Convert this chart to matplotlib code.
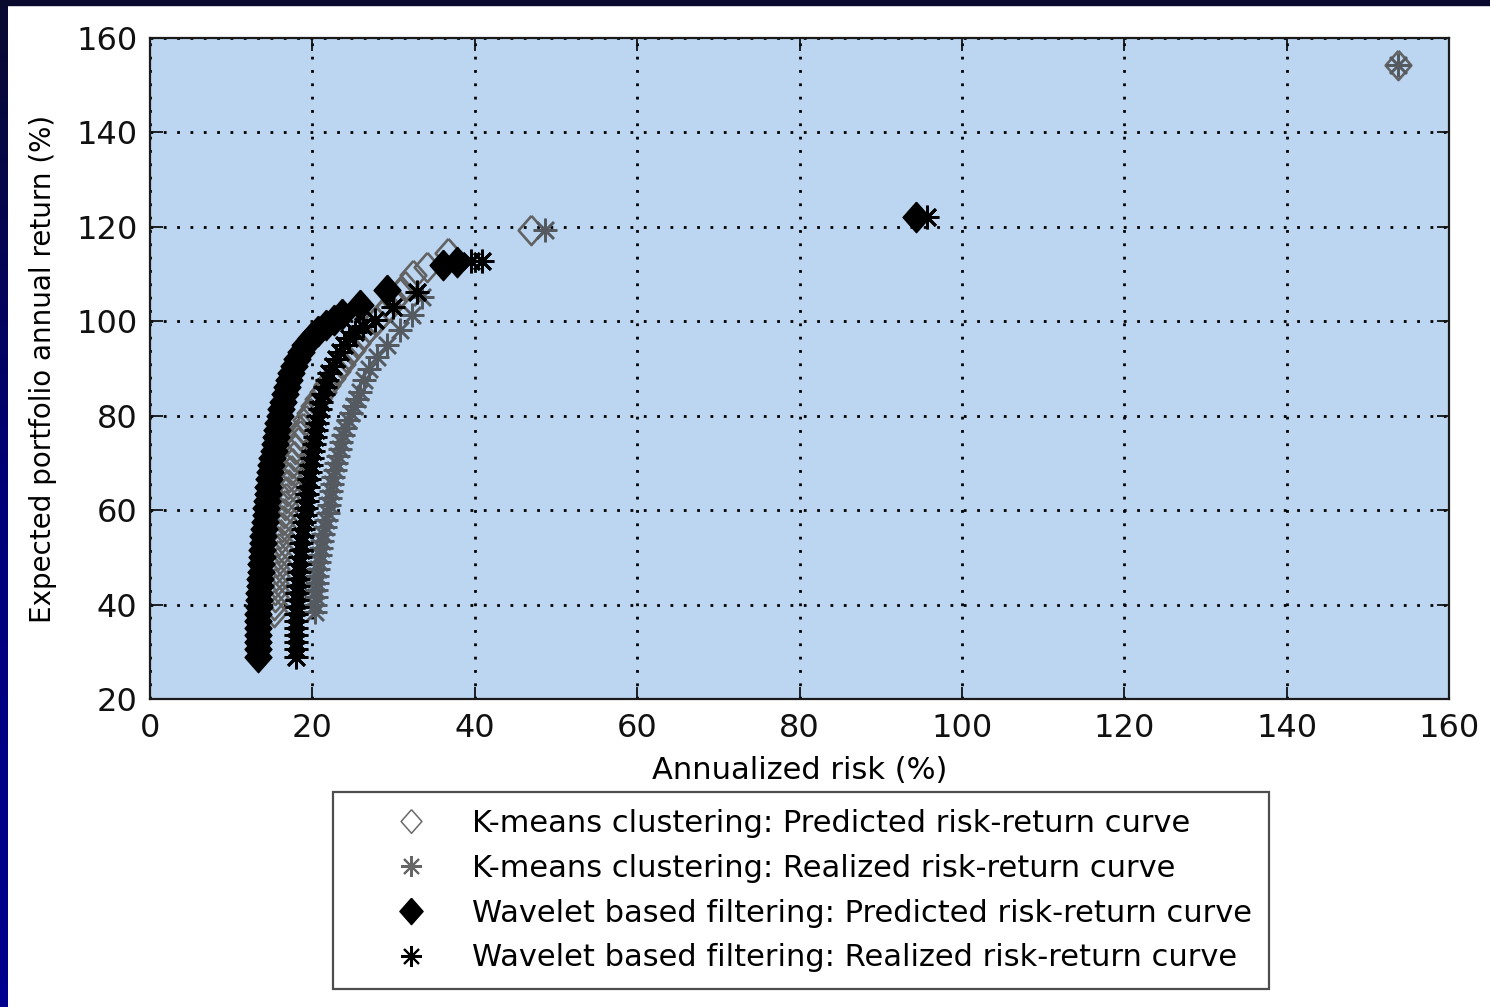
import numpy as np
import matplotlib
matplotlib.use("Agg")
import matplotlib.pyplot as plt
from matplotlib.lines import Line2D

# risk (%) / return (%) points of the four frontiers
km_pred_risk = [15.30, 15.32, 15.35, 15.39, 15.44, 15.50, 15.57, 15.65, 15.74, 15.84,
                15.95, 16.07, 16.20, 16.33, 16.46, 16.58, 16.72, 16.86, 17.00, 17.15,
                17.32, 17.50, 17.70, 17.92, 18.17, 18.45, 18.80, 19.20, 19.65, 20.15,
                20.70, 21.30, 21.85, 22.40, 23.00, 23.60, 24.20, 24.85, 25.55, 26.25,
                27.00, 27.80, 28.60, 29.40, 30.10, 30.80, 31.40, 32.40, 34.10, 36.70,
                46.90, 153.70]
km_pred_ret = [38.5, 40.0, 41.5, 43.0, 44.5, 46.0, 47.5, 49.0, 50.5, 52.0,
               53.5, 55.0, 56.5, 58.0, 59.5, 61.0, 62.5, 64.0, 65.5, 67.0,
               68.5, 70.0, 71.5, 73.0, 74.5, 76.0, 77.5, 79.0, 80.5, 82.0,
               83.5, 85.0, 86.5, 88.0, 89.5, 91.0, 92.5, 94.0, 95.5, 97.0,
               98.5, 100.0, 101.5, 103.0, 104.5, 106.0, 107.5, 109.8, 111.5, 114.5,
               119.3, 154.3]

km_real_risk = [20.30, 20.35, 20.40, 20.46, 20.53, 20.60, 20.68, 20.78, 20.90, 21.05,
                21.20, 21.35, 21.52, 21.70, 21.88, 22.00, 22.15, 22.30, 22.45, 22.60,
                22.75, 22.95, 23.15, 23.35, 23.55, 23.80, 24.05, 24.40, 24.80, 25.15,
                25.50, 25.85, 26.40, 27.00, 27.90, 29.20, 30.80, 32.30, 33.50, 48.60,
                153.70]
km_real_ret = [38.5, 40.0, 41.5, 43.0, 44.5, 46.0, 47.5, 49.0, 50.5, 52.0,
               53.5, 55.0, 56.5, 58.0, 59.5, 61.0, 62.5, 64.0, 65.5, 67.0,
               68.5, 70.0, 71.5, 73.0, 74.5, 76.0, 77.5, 79.0, 80.5, 82.0,
               83.5, 85.0, 87.5, 90.0, 92.5, 95.0, 98.2, 101.3, 105.2, 119.3,
               154.3]

wv_pred_risk = [13.30, 13.30, 13.30, 13.30, 13.32, 13.34, 13.36, 13.40, 13.43, 13.47,
                13.52, 13.57, 13.62, 13.68, 13.74, 13.80, 13.88, 13.96, 14.05, 14.15,
                14.25, 14.33, 14.42, 14.50, 14.58, 14.68, 14.80, 14.93, 15.07, 15.22,
                15.37, 15.52, 15.67, 15.82, 16.00, 16.18, 16.38, 16.60, 16.85, 17.12,
                17.40, 17.75, 18.15, 18.60, 19.15, 19.80, 20.70, 21.70, 22.70, 23.60,
                25.90, 29.20, 36.10, 37.80, 94.30]
wv_pred_ret = [29.0, 30.5, 32.0, 33.5, 35.0, 36.5, 38.0, 39.5, 41.0, 42.5,
               44.0, 45.5, 47.0, 48.5, 50.0, 51.5, 53.0, 54.5, 56.0, 57.5,
               59.0, 60.5, 62.0, 63.5, 65.0, 66.5, 68.0, 69.5, 71.0, 72.5,
               74.0, 75.5, 77.0, 78.5, 80.0, 81.5, 83.0, 84.5, 86.0, 87.5,
               89.0, 90.5, 92.0, 93.5, 95.0, 96.5, 98.0, 99.2, 100.3, 101.5,
               103.5, 106.6, 111.9, 112.6, 122.0]

wv_real_risk = [18.00, 18.00, 18.00, 18.00, 18.00, 18.02, 18.04, 18.07, 18.10, 18.14,
                18.19, 18.24, 18.30, 18.37, 18.45, 18.55, 18.65, 18.75, 18.85, 18.96,
                19.07, 19.18, 19.29, 19.38, 19.48, 19.60, 19.72, 19.85, 19.98, 20.10,
                20.22, 20.35, 20.48, 20.60, 20.75, 20.92, 21.10, 21.30, 21.52, 21.78,
                22.10, 22.50, 22.95, 23.45, 23.95, 24.50, 25.20, 26.20, 27.70, 29.90,
                32.90, 39.50, 40.90, 95.70]
wv_real_ret = [29.0, 30.5, 32.0, 33.5, 35.0, 36.5, 38.0, 39.5, 41.0, 42.5,
               44.0, 45.5, 47.0, 48.5, 50.0, 51.5, 53.0, 54.5, 56.0, 57.5,
               59.0, 60.5, 62.0, 63.5, 65.0, 66.5, 68.0, 69.5, 71.0, 72.5,
               74.0, 75.5, 77.0, 78.5, 80.0, 81.5, 83.0, 84.5, 86.0, 87.5,
               89.0, 90.5, 92.0, 93.5, 95.0, 96.5, 97.8, 99.0, 100.3, 103.0,
               106.2, 112.7, 112.8, 122.0]

labels = ["K-means clustering: Predicted risk-return curve",
          "K-means clustering: Realized risk-return curve",
          "Wavelet based filtering: Predicted risk-return curve",
          "Wavelet based filtering: Realized risk-return curve"]

plt.rcParams['font.family'] = ['DejaVu Sans']

fig = plt.figure(figsize=(14.9, 10.07), dpi=100)
fig.patch.set_facecolor('white')

# dark blue slide edge on the left and top
edge = fig.add_axes([0, 0, 8 / 1490, 1])
grad = np.linspace(0, 1, 256).reshape(-1, 1)
edge.imshow(grad, aspect='auto', cmap=matplotlib.colors.LinearSegmentedColormap.from_list(
    'edge', ['#00008f', '#00007a', '#0a0a30']), origin='lower')
edge.axis('off')
fig.patches.append(plt.Rectangle((0, 1 - 5 / 1007), 1, 5 / 1007, transform=fig.transFigure,
                                 color='#0a0a2e', zorder=0))

ax = fig.add_axes([150 / 1490, 1 - 699 / 1007, 1299 / 1490, 661 / 1007])
ax.set_facecolor('#bcd6f1')

diamond = [(0, 1), (0.88, 0), (0, -1), (-0.88, 0), (0, 1)]
star = (8, 2, 0)

ax.plot(km_pred_risk, km_pred_ret, linestyle='none', marker=diamond, markersize=21,
        markerfacecolor='none', markeredgecolor='#626262', markeredgewidth=1.9)
ax.plot(km_real_risk, km_real_ret, linestyle='none', marker=star, markersize=17,
        color='#555a60', markeredgewidth=1.8)
ax.plot(wv_pred_risk, wv_pred_ret, linestyle='none', marker=diamond, markersize=22,
        markerfacecolor='black', markeredgecolor='black', markeredgewidth=1.0)
ax.plot(wv_real_risk, wv_real_ret, linestyle='none', marker=star, markersize=17,
        color='black', markeredgewidth=2.0)

ax.set_xlim(0, 160)
ax.set_ylim(20, 160)
ax.set_xticks(np.arange(0, 161, 20))
ax.set_yticks(np.arange(20, 161, 20))
ax.grid(True, color='black', linestyle=(0, (1, 3.8)), linewidth=2.0)
ax.tick_params(direction='in', length=9, width=1.3, top=True, right=True,
               labelsize=23, colors='#111111')
ax.tick_params(axis='x', pad=10)
ax.tick_params(axis='y', pad=9)
for s in ax.spines.values():
    s.set_linewidth(1.6)
    s.set_color('#1a1a1a')

ax.set_xlabel("Annualized risk (%)", fontsize=22, labelpad=9)
ax.set_ylabel("Expected portfolio annual return (%)", fontsize=20, labelpad=14)

handles = [
    Line2D([], [], linestyle='none', marker=diamond, markersize=17,
           markerfacecolor='none', markeredgecolor='#6a6a6a', markeredgewidth=1.1),
    Line2D([], [], linestyle='none', marker=star, markersize=15,
           color='#666666', markeredgewidth=1.5),
    Line2D([], [], linestyle='none', marker=diamond, markersize=19,
           markerfacecolor='black', markeredgecolor='black'),
    Line2D([], [], linestyle='none', marker=star, markersize=15,
           color='black', markeredgewidth=1.5),
]
leg = fig.legend(handles, labels, loc='upper left',
                 bbox_to_anchor=(333 / 1490, 1 - 792 / 1007),
                 fontsize=22, frameon=True, fancybox=False, edgecolor='#222222',
                 borderpad=0.55, labelspacing=0.52, handlelength=4.0,
                 handletextpad=0.0, borderaxespad=0)
leg.get_frame().set_linewidth(1.6)

fig.savefig("out.png", dpi=100)
